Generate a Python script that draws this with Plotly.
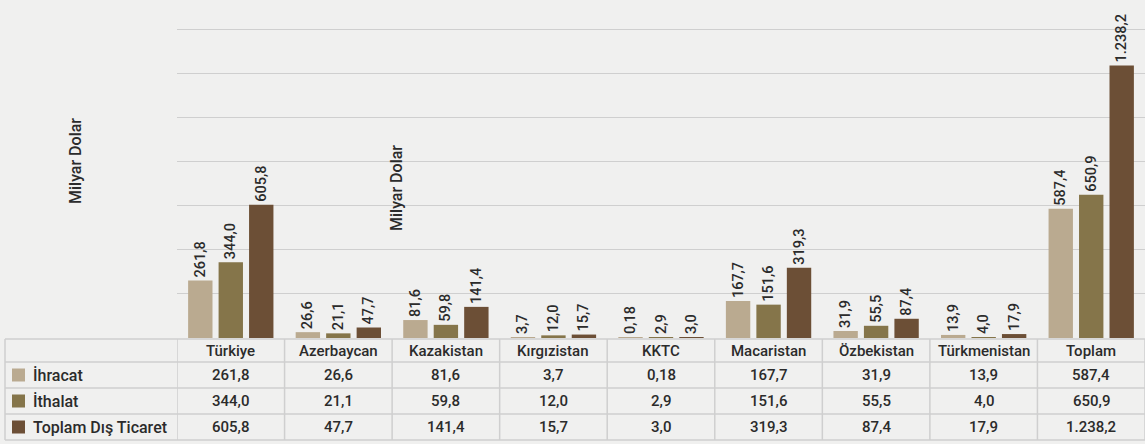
import plotly.graph_objects as go

categories = ["Türkiye", "Azerbaycan", "Kazakistan", "Kırgızistan", "KKTC",
              "Macaristan", "Özbekistan", "Türkmenistan", "Toplam"]
series_names = ["İhracat", "İthalat", "Toplam Dış Ticaret"]
ihracat = [261.8, 26.6, 81.6, 3.7, 0.18, 167.7, 31.9, 13.9, 587.4]
ithalat = [344.0, 21.1, 59.8, 12.0, 2.9, 151.6, 55.5, 4.0, 650.9]
toplam = [605.8, 47.7, 141.4, 15.7, 3.0, 319.3, 87.4, 17.9, 1238.2]
colors = ["#BAAA90", "#85754A", "#6C4F36"]
unit_label = "Milyar Dolar"


def fmt(v):
    s = f"{v:,.2f}" if v < 1 else f"{v:,.1f}"
    return s.replace(",", "X").replace(".", ",").replace("X", ".")


FONT = "Roboto"
TXT = "#2b2b2b"
LINE = "#cfcfcf"

fig = go.Figure()
all_series = [ihracat, ithalat, toplam]
for name, vals, col in zip(series_names, all_series, colors):
    fig.add_trace(go.Bar(
        x=categories, y=vals, name=name, marker=dict(color=col, line=dict(width=0)),
        text=[fmt(v) for v in vals], textposition="outside", textangle=-90,
        textfont=dict(family=FONT, size=14.5, color=TXT, weight=500),
        cliponaxis=False, constraintext="none", showlegend=False,
    ))

W, H = 1145, 444
L, B = 177, 106
plot_h = H - B


def py(pix):
    return (plot_h - pix) / plot_h


def px(pix):
    return (pix - L) / (W - L)


fig.update_layout(
    width=W, height=H, margin=dict(l=L, r=0, t=0, b=B),
    paper_bgcolor="#f0f0ef", plot_bgcolor="rgba(0,0,0,0)",
    barmode="group", bargap=0.15, bargroupgap=0.2,
    xaxis=dict(showticklabels=False, showgrid=False, zeroline=False, showline=False,
               range=[-0.5, 8.5]),
    yaxis=dict(range=[0, 1536], tickvals=[0, 200, 400, 600, 800, 1000, 1200, 1400],
               showticklabels=False, showgrid=True, gridcolor=LINE, gridwidth=1,
               zeroline=False, showline=False),
    font=dict(family=FONT, color=TXT),
)

shapes = []
row_y = [339, 362, 388, 414, 440]
for yy in row_y:
    shapes.append(dict(type="line", xref="paper", yref="paper",
                       x0=px(5), x1=1, y0=py(yy), y1=py(yy),
                       line=dict(color=LINE, width=1.5)))
shapes.append(dict(type="line", xref="paper", yref="paper", x0=px(5), x1=px(5),
                   y0=py(339), y1=py(440), line=dict(color=LINE, width=1.5)))
for k in range(len(categories)):
    shapes.append(dict(type="line", xref="x", yref="paper", x0=k - 0.5, x1=k - 0.5,
                       y0=py(339), y1=py(440), line=dict(color=LINE, width=1.5)))
shapes.append(dict(type="line", xref="paper", yref="paper", x0=1, x1=1,
                   y0=py(339), y1=py(440), line=dict(color=LINE, width=1.5)))

annotations = []
row_c = [375, 401, 427]
for i, c in enumerate(categories):
    annotations.append(dict(x=c, xref="x", y=py(351), yref="paper", text=c,
                            showarrow=False, xanchor="center", yanchor="middle",
                            font=dict(family=FONT, size=15, color=TXT, weight=500)))
    for r, vals in enumerate(all_series):
        annotations.append(dict(x=c, xref="x", y=py(row_c[r]), yref="paper",
                                text=fmt(vals[i]), showarrow=False,
                                xanchor="center", yanchor="middle",
                                font=dict(family=FONT, size=15, color=TXT, weight=500)))
for r, (name, col) in enumerate(zip(series_names, colors)):
    shapes.append(dict(type="rect", xref="paper", yref="paper",
                       x0=px(12), x1=px(25), y0=py(row_c[r] - 6.5), y1=py(row_c[r] + 6.5),
                       fillcolor=col, line=dict(width=0)))
    annotations.append(dict(x=px(31), xref="paper", y=py(row_c[r]), yref="paper",
                            text=name, showarrow=False, xanchor="left", yanchor="middle",
                            font=dict(family=FONT, size=16, color=TXT, weight=500)))

annotations.append(dict(x=px(75), xref="paper", y=py(161), yref="paper", text=unit_label,
                        textangle=-90, showarrow=False, xanchor="center", yanchor="middle",
                        font=dict(family=FONT, size=16, color=TXT, weight=500)))
annotations.append(dict(x=px(397), xref="paper", y=py(188), yref="paper", text=unit_label,
                        textangle=-90, showarrow=False, xanchor="center", yanchor="middle",
                        font=dict(family=FONT, size=16, color=TXT, weight=500)))

fig.update_layout(shapes=shapes, annotations=annotations)
fig.write_html("out.html", config={"displayModeBar": False},
               post_script="document.body.style.margin='0';document.body.style.background='#f0f0ef';")
